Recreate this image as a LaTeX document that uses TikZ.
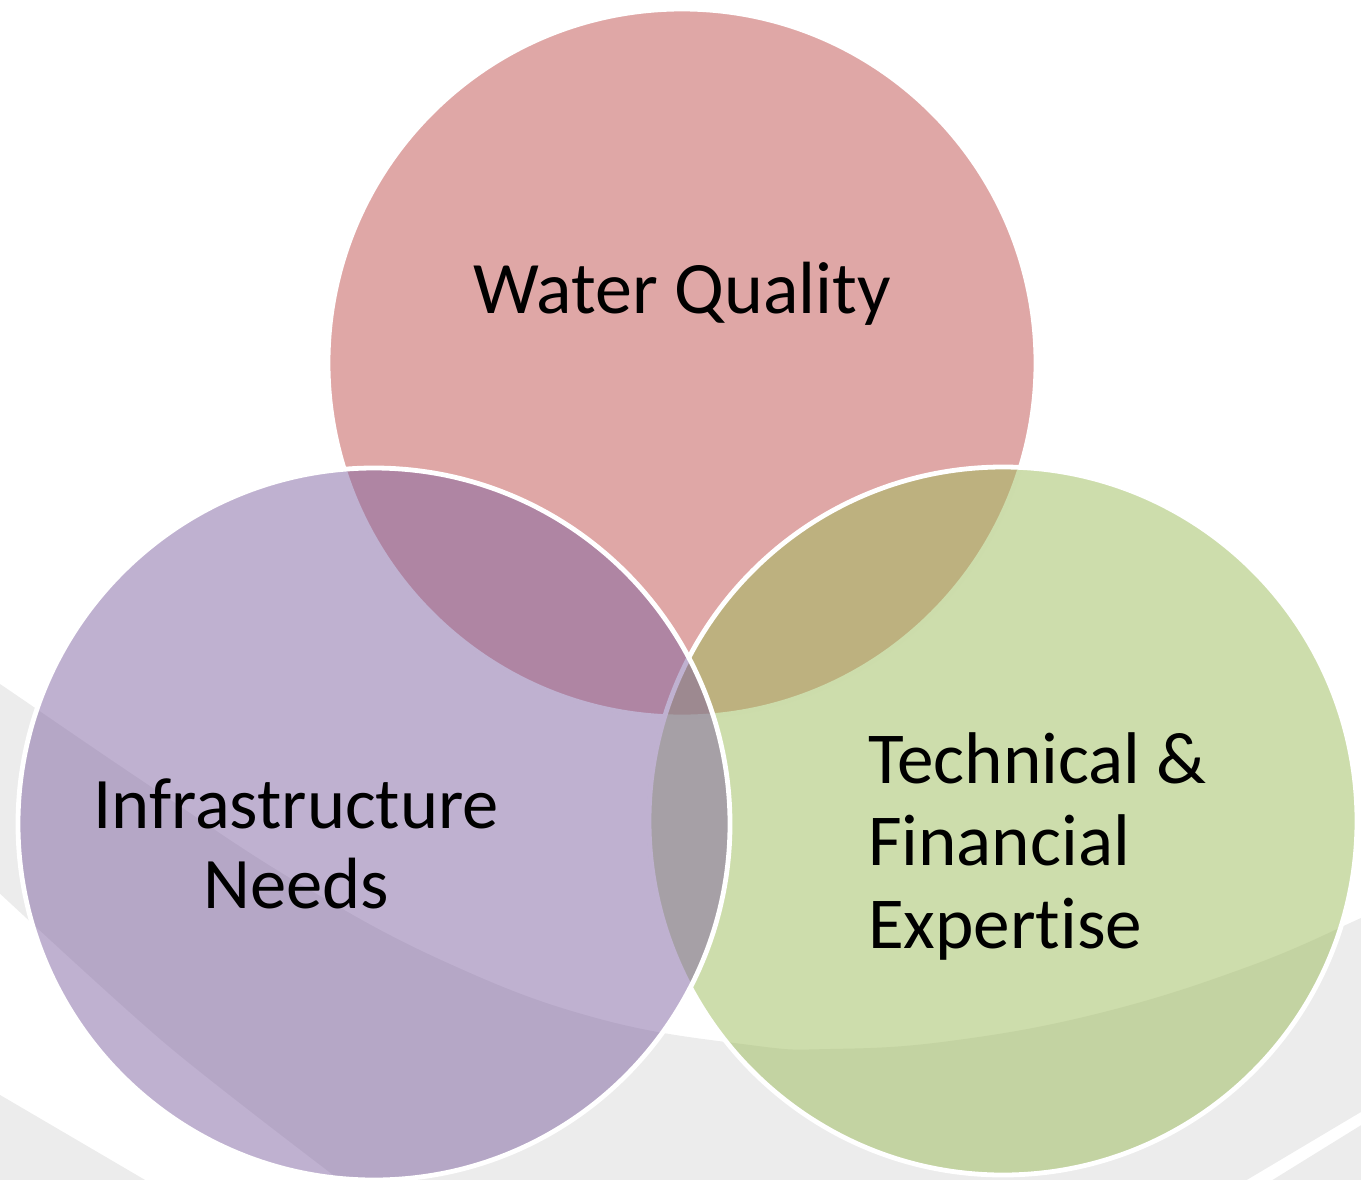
\documentclass[tikz,border=0pt]{standalone}
\usepackage{fontspec}
\setmainfont{Carlito}[Ligatures={NoCommon}]
\definecolor{wqred}{HTML}{C0504D}
\definecolor{infpurple}{HTML}{8064A2}
\definecolor{tfegreen}{HTML}{9BBB59}
\definecolor{bandgray}{HTML}{ECECEC}
\begin{document}
\begin{tikzpicture}[x=0.5pt,y=-0.5pt,
  venn/.style={circle, draw=white, line width=2.4pt, fill opacity=0.5, inner sep=0pt, outer sep=0pt},
  lbl/.style={text=black, inner sep=0pt, outer sep=0pt}]
\useasboundingbox (0,0) rectangle (1361,1179);
\begin{scope}
\clip (0,0) rectangle (1361,1179);
\fill[bandgray] plot[smooth, tension=0.7] coordinates {(-10,678) (0,684) (150,786) (300,884) (450,964) (600,1019) (750,1045) (830,1049) (950,1041) (1100,1013) (1250,966) (1361,918) (1371,913)}
  -- (1371,1106) -- (1240,1184) -- (345,1184)
  -- plot[smooth] coordinates {(345,1184) (167,1045) (-5,889)} -- cycle;
\fill[bandgray] (1371,1119) -- (1266,1184) -- (1371,1184) -- cycle;
\fill[bandgray] (-5,1092) -- (152,1184) -- (-5,1184) -- cycle;
\node[venn, fill=wqred, minimum size=354pt] (top) at (682,363) {};
\node[venn, fill=tfegreen, minimum size=354pt] (right) at (1003,821) {};
\node[venn, fill=infpurple, minimum size=356pt] (left) at (374,824) {};
\end{scope}
\node[lbl, font=\fontsize{37}{40}\selectfont, anchor=base] (wq) at (682,313) {Water Quality};
\node[lbl, font=\fontsize{36.3}{40}\selectfont, align=center, anchor=base] (inf) at (296,908) {Infrastructure\\Needs};
\node[lbl, font=\fontsize{36.6}{41.25}\selectfont, align=left, anchor=base west] (tfe) at (868,948) {Technical \&\\Financial\\Expertise};
\end{tikzpicture}
\end{document}
